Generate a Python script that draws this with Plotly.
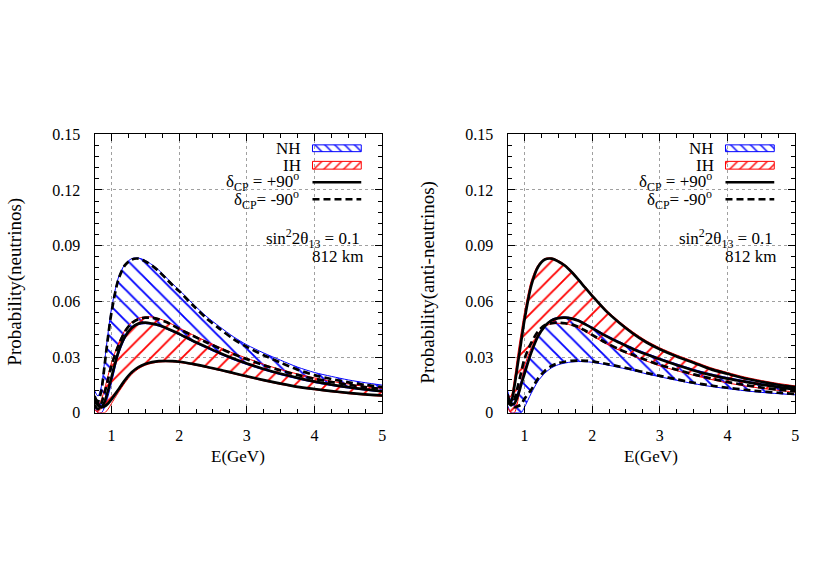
import plotly.graph_objects as go

# ---------------- data ----------------
E = [0.75, 0.8, 0.85, 0.9, 0.95, 1.0, 1.1, 1.2, 1.3, 1.4, 1.5, 1.6, 1.7, 1.8, 1.9,
     2.0, 2.2, 2.4, 2.6, 2.8, 3.0, 3.25, 3.5, 3.75, 4.0, 4.25, 4.5, 4.75, 5.0]

# neutrinos (left panel)
nu_nh_m90 = [0.008, 0.006, 0.012, 0.026, 0.041, 0.054, 0.0715, 0.0795, 0.0825, 0.083, 0.0815,
             0.0792, 0.0762, 0.0725, 0.0688, 0.0655, 0.058, 0.051, 0.0452, 0.0398, 0.0355,
             0.031, 0.027, 0.0232, 0.0203, 0.0182, 0.0164, 0.015, 0.0138]
nu_nh_p90 = [0.009, 0.005, 0.003, 0.006, 0.012, 0.019, 0.0325, 0.041, 0.0458, 0.048, 0.0485,
             0.048, 0.0472, 0.0458, 0.0442, 0.0425, 0.0388, 0.0355, 0.0322, 0.0292, 0.0265,
             0.0236, 0.021, 0.0188, 0.0168, 0.0152, 0.0138, 0.0126, 0.0116]
nu_ih_m90 = [0.004, 0.002, 0.005, 0.011, 0.018, 0.0255, 0.036, 0.0438, 0.0483, 0.0505, 0.0512,
             0.0512, 0.0503, 0.049, 0.0472, 0.0452, 0.0415, 0.038, 0.0347, 0.0316, 0.0289,
             0.0256, 0.0228, 0.0204, 0.0183, 0.0166, 0.0151, 0.0138, 0.0127]
nu_ih_p90 = [0.006, 0.004, 0.003, 0.0035, 0.005, 0.0072, 0.0124, 0.0176, 0.0218, 0.0246, 0.0263,
             0.0273, 0.0278, 0.0279, 0.0278, 0.0275, 0.0263, 0.0248, 0.0232, 0.0214, 0.0197,
             0.0176, 0.0157, 0.014, 0.0128, 0.0117, 0.0107, 0.0099, 0.0093]
nu_nh_hi = [0.012, 0.009, 0.014, 0.028, 0.043, 0.056, 0.0725, 0.080, 0.083, 0.0833, 0.082,
            0.0797, 0.0768, 0.0732, 0.0695, 0.0662, 0.0588, 0.052, 0.0463, 0.041, 0.0366,
            0.0322, 0.0283, 0.0246, 0.0217, 0.0196, 0.0177, 0.0162, 0.0149]
nu_nh_lo = [0.004, 0.0, 0.0, 0.003, 0.009, 0.016, 0.031, 0.040, 0.0452, 0.0475, 0.048,
            0.0476, 0.0467, 0.0453, 0.0437, 0.042, 0.0383, 0.0349, 0.0316, 0.0286, 0.026,
            0.0231, 0.0205, 0.0183, 0.0163, 0.0147, 0.0133, 0.0122, 0.0112]
nu_ih_hi = [0.008, 0.004, 0.007, 0.013, 0.02, 0.027, 0.037, 0.0445, 0.0488, 0.0509, 0.0516,
            0.0516, 0.0507, 0.0494, 0.0476, 0.0456, 0.042, 0.0385, 0.0352, 0.0321, 0.0294,
            0.0261, 0.0233, 0.0209, 0.0188, 0.017, 0.0155, 0.0142, 0.0131]
nu_ih_lo = [0.002, 0.0, 0.0, 0.0, 0.002, 0.005, 0.0108, 0.0162, 0.0207, 0.0237, 0.0256,
            0.0267, 0.0273, 0.0275, 0.0274, 0.0271, 0.0259, 0.0244, 0.0228, 0.021, 0.0193,
            0.0172, 0.0153, 0.0137, 0.0124, 0.0113, 0.0103, 0.0095, 0.0089]

# anti-neutrinos (right panel)
an_ih_p90 = [0.006, 0.006, 0.014, 0.026, 0.038, 0.050, 0.0685, 0.0785, 0.0825, 0.083, 0.0815,
             0.0792, 0.0757, 0.0716, 0.0672, 0.063, 0.055, 0.0485, 0.0428, 0.038, 0.0342,
             0.0303, 0.027, 0.0235, 0.021, 0.0186, 0.0167, 0.0151, 0.0138]
an_ih_m90 = [0.006, 0.004, 0.007, 0.014, 0.0215, 0.029, 0.0376, 0.0438, 0.0472, 0.0483, 0.0485,
             0.0482, 0.0475, 0.0462, 0.0442, 0.042, 0.0378, 0.0342, 0.0312, 0.0284, 0.0258,
             0.0232, 0.0207, 0.0185, 0.0166, 0.015, 0.0136, 0.0125, 0.0116]
an_nh_p90 = [0.01, 0.005, 0.005, 0.009, 0.015, 0.021, 0.0324, 0.0411, 0.0466, 0.0498, 0.051,
             0.0512, 0.0507, 0.0495, 0.0476, 0.0456, 0.0414, 0.0378, 0.0344, 0.0315, 0.0288,
             0.0257, 0.0228, 0.0204, 0.0184, 0.0168, 0.0152, 0.0138, 0.0126]
an_nh_m90 = [0.008, 0.005, 0.003, 0.0035, 0.0045, 0.0075, 0.0124, 0.0185, 0.0225, 0.0252, 0.0267,
             0.0275, 0.028, 0.0281, 0.028, 0.0277, 0.0264, 0.0249, 0.0233, 0.0215, 0.0199,
             0.018, 0.0162, 0.0147, 0.0135, 0.0124, 0.0115, 0.0108, 0.0102]
an_ih_hi = [0.009, 0.009, 0.018, 0.031, 0.043, 0.054, 0.071, 0.0795, 0.083, 0.0834, 0.082,
            0.0797, 0.0762, 0.0721, 0.0678, 0.0636, 0.0557, 0.0492, 0.0436, 0.0388, 0.035,
            0.0311, 0.0277, 0.0243, 0.0217, 0.0193, 0.0174, 0.0158, 0.0145]
an_ih_lo = [0.003, 0.0, 0.0, 0.006, 0.016, 0.025, 0.035, 0.0425, 0.0465, 0.0479, 0.0482,
            0.0479, 0.0471, 0.0457, 0.0437, 0.0415, 0.0373, 0.0337, 0.0307, 0.0279, 0.0253,
            0.0227, 0.0202, 0.018, 0.0161, 0.0145, 0.0132, 0.0121, 0.0112]
an_nh_hi = [0.012, 0.007, 0.007, 0.011, 0.017, 0.023, 0.0335, 0.0418, 0.047, 0.0502, 0.0514,
            0.0516, 0.0511, 0.05, 0.0481, 0.0461, 0.042, 0.0384, 0.035, 0.0321, 0.0294,
            0.0263, 0.0234, 0.021, 0.019, 0.0173, 0.0157, 0.0143, 0.0131]
an_nh_lo = [0.004, 0.0, 0.0, 0.0, 0.0, 0.003, 0.0105, 0.017, 0.0213, 0.0242, 0.0259,
            0.0268, 0.0274, 0.0276, 0.0275, 0.0272, 0.0259, 0.0244, 0.0228, 0.021, 0.0194,
            0.0175, 0.0157, 0.0142, 0.013, 0.0119, 0.011, 0.0103, 0.0097]

x_tickvals = [1, 2, 3, 4, 5]
x_ticktext = ["1", "2", "3", "4", "5"]
y_tickvals = [0, 0.03, 0.06, 0.09, 0.12, 0.15]
y_ticktext = ["0", "0.03", "0.06", "0.09", "0.12", "0.15"]

# ---------------- styling ----------------
W, H = 830, 581
FONT = "Liberation Serif"
BLUE, RED = "#0000ff", "#ff0000"
LW = 2.7
DASH = "7px,4px"
PATTERN_SIZE = 11
PATTERN_SOLID = 0.17

def px(x):
    return x / W

def py(y):
    return 1 - y / H

fig = go.Figure()

def band(xa, ya, lo, hi, color, shape):
    ln = dict(color=color, width=1, shape="spline", smoothing=0.8)
    fig.add_trace(go.Scatter(x=E, y=lo, mode="lines", line=ln, xaxis=xa, yaxis=ya,
                             showlegend=False, hoverinfo="skip"))
    fig.add_trace(go.Scatter(x=E, y=hi, mode="lines", line=ln, xaxis=xa, yaxis=ya,
                             fill="tonexty", fillcolor="rgba(0,0,0,0)",
                             fillpattern=dict(shape=shape, fgcolor=color, bgcolor="rgba(0,0,0,0)",
                                              size=PATTERN_SIZE, solidity=PATTERN_SOLID,
                                              fillmode="replace"),
                             showlegend=False, hoverinfo="skip"))

def curve(xa, ya, y, dashed):
    fig.add_trace(go.Scatter(x=E, y=y, mode="lines", xaxis=xa, yaxis=ya,
                             line=dict(color="black", width=LW, shape="spline", smoothing=0.8,
                                       dash=DASH if dashed else "solid"),
                             showlegend=False, hoverinfo="skip"))

# left panel
band("x", "y", nu_nh_lo, nu_nh_hi, BLUE, "\\")
band("x", "y", nu_ih_lo, nu_ih_hi, RED, "/")
curve("x", "y", nu_nh_p90, False)
curve("x", "y", nu_ih_p90, False)
curve("x", "y", nu_nh_m90, True)
curve("x", "y", nu_ih_m90, True)

# right panel
band("x2", "y2", an_nh_lo, an_nh_hi, BLUE, "\\")
band("x2", "y2", an_ih_lo, an_ih_hi, RED, "/")
curve("x2", "y2", an_ih_p90, False)
curve("x2", "y2", an_nh_p90, False)
curve("x2", "y2", an_ih_m90, True)
curve("x2", "y2", an_nh_m90, True)

# legend samples (pixel coordinate overlay)
for off in (0, 415):
    for (y0, y1, col, shp) in ((141, 148, BLUE, "\\"), (158, 166, RED, "/")):
        x0, x1 = 314 + off, 363 + off
        fig.add_trace(go.Scatter(x=[x0, x1, x1, x0, x0], y=[y0, y0, y1, y1, y0],
                                 mode="lines", fill="toself", fillcolor="rgba(0,0,0,0)",
                                 fillpattern=dict(shape=shp, fgcolor=col, bgcolor="rgba(0,0,0,0)",
                                                  size=7, solidity=0.2, fillmode="replace"),
                                 line=dict(color=col, width=1), xaxis="x3", yaxis="y3",
                                 showlegend=False, hoverinfo="skip"))

shapes = []
annotations = []
f = dict(family=FONT, size=17, color="black")
ft = dict(family=FONT, size=19, color="black")
for off in (0, 415):
    # white key background hiding the grid
    shapes.append(dict(type="rect", xref="paper", yref="paper",
                       x0=px(222 + off), x1=px(372 + off), y0=py(206), y1=py(131.5),
                       fillcolor="white", line=dict(width=0), layer="between"))
    shapes.append(dict(type="rect", xref="paper", yref="paper",
                       x0=px(262 + off), x1=px(370 + off), y0=py(264), y1=py(228),
                       fillcolor="white", line=dict(width=0), layer="between"))
    shapes.append(dict(type="line", xref="paper", yref="paper",
                       x0=px(314 + off), x1=px(363 + off), y0=py(179.5), y1=py(179.5),
                       line=dict(color="black", width=LW)))
    shapes.append(dict(type="line", xref="paper", yref="paper",
                       x0=px(314 + off), x1=px(363 + off), y0=py(197), y1=py(197),
                       line=dict(color="black", width=LW, dash=DASH)))
    for txt, x, y in (("NH", 303, 145), ("IH", 303, 162),
                      ("δ<sub>CP</sub> = +90<sup>o</sup>", 301, 179),
                      ("δ<sub>CP</sub>= -90<sup>o</sup>", 301, 197),
                      ("sin<sup>2</sup>2θ<sub>13</sub> = 0.1", 363, 237),
                      ("812 km", 366, 256)):
        annotations.append(dict(text=txt, x=px(x + off), y=py(y), xref="paper", yref="paper",
                                xanchor="right", yanchor="middle", showarrow=False, font=f,
                                borderpad=0))
    annotations.append(dict(text="E(GeV)", x=px(239 + off), y=py(462), xref="paper", yref="paper",
                            xanchor="center", yanchor="middle", showarrow=False, font=f))

annotations.append(dict(text="Probability(neutrinos)", x=px(15), y=py(282), xref="paper",
                        yref="paper", textangle=-90, showarrow=False, font=ft,
                        xanchor="center", yanchor="middle"))
annotations.append(dict(text="Probability(anti-neutrinos)", x=px(430), y=py(282), xref="paper",
                        yref="paper", textangle=-90, showarrow=False, font=ft,
                        xanchor="center", yanchor="middle"))

common = dict(showline=True, linecolor="black", linewidth=1.3, mirror="ticks", ticks="inside",
              ticklen=7, tickwidth=1, tickcolor="black", showgrid=True, gridcolor="#a0a0a0",
              griddash="dot", gridwidth=1, zeroline=False,
              tickfont=dict(family=FONT, size=16, color="black"))
xcommon = dict(common, range=[0.75, 5], tickvals=x_tickvals, ticktext=x_ticktext,
               ticklabelstandoff=8,
               minor=dict(dtick=0.25, tick0=0, ticks="inside", ticklen=4, tickcolor="black",
                          showgrid=False))
ycommon = dict(common, range=[0, 0.15], tickvals=y_tickvals, ticktext=y_ticktext,
               ticklabelstandoff=10,
               minor=dict(dtick=0.006, tick0=0, ticks="inside", ticklen=4, tickcolor="black",
                          showgrid=False))

ydom = [(H - 417) / H, (H - 130) / H]
fig.update_layout(
    width=W, height=H, margin=dict(l=0, r=0, t=0, b=0),
    paper_bgcolor="white", plot_bgcolor="rgba(0,0,0,0)", showlegend=False,
    xaxis=dict(xcommon, domain=[95 / W, 384 / W], anchor="y"),
    yaxis=dict(ycommon, domain=ydom, anchor="x"),
    xaxis2=dict(xcommon, domain=[510 / W, 799 / W], anchor="y2"),
    yaxis2=dict(ycommon, domain=ydom, anchor="x2"),
    xaxis3=dict(domain=[0, 1], range=[0, W], visible=False, anchor="y3", fixedrange=True),
    yaxis3=dict(domain=[0, 1], range=[H, 0], visible=False, anchor="x3", fixedrange=True),
    shapes=shapes, annotations=annotations,
)

fig.write_html("out.html", config={"displayModeBar": False},
               post_script="document.body.style.margin='0';document.body.style.overflow='hidden';")
